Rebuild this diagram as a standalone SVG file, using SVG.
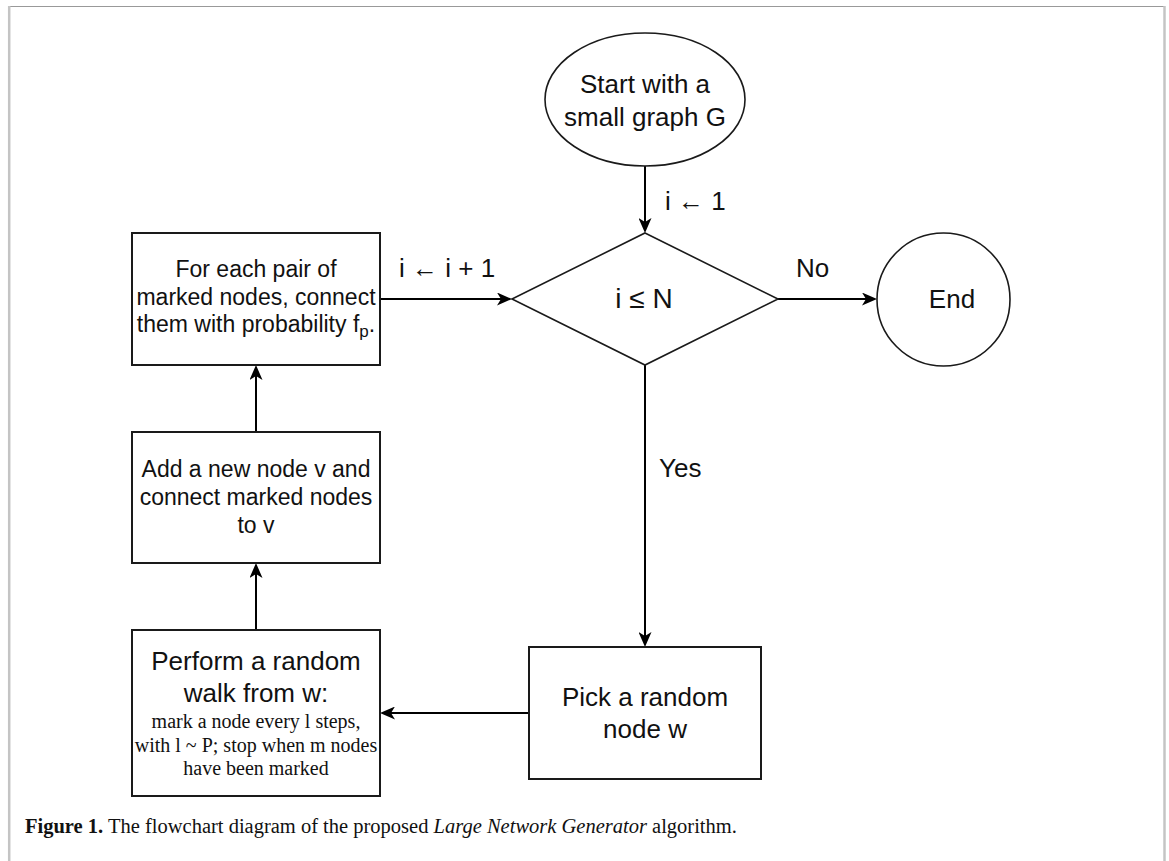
<svg xmlns="http://www.w3.org/2000/svg" width="1169" height="861" viewBox="0 0 1169 861">
<style>
.shape{fill:#fff;stroke:#1a1a1a;stroke-width:1.6}
.box{fill:#fff;stroke:#1a1a1a;stroke-width:2}
.conn{fill:none;stroke:#000;stroke-width:2}
.t{font-family:"Liberation Sans",Arial,sans-serif;fill:#111;text-anchor:middle}
.t26{font-size:26px}
.t23{font-size:23px}
.lab{font-family:"Liberation Sans",Arial,sans-serif;font-size:26px;fill:#111}
.s{font-family:"Liberation Serif","Times New Roman",serif;fill:#111;text-anchor:middle;font-size:20px}
.cap{font-family:"Liberation Serif","Times New Roman",serif;fill:#111;font-size:20.5px}
</style>
<defs>
<marker id="arr" markerUnits="userSpaceOnUse" viewBox="0 0 15 13" refX="4" refY="6.5" markerWidth="15" markerHeight="13" orient="auto">
<path d="M0,0 L15,6.5 L0,13 L4,6.5 Z" fill="#000"/>
</marker>
</defs>
<rect x="0" y="0" width="1169" height="861" fill="#fff"/>
<g id="frame">
<line x1="8" y1="6.5" x2="1165" y2="6.5" stroke="#999" stroke-width="1"/>
<line x1="9.2" y1="6" x2="9.2" y2="861" stroke="#c4c4c4" stroke-width="2.5"/>
<line x1="1164.5" y1="6" x2="1164.5" y2="861" stroke="#c4c4c4" stroke-width="2.5"/>
</g>
<g id="connectors">
<line class="conn" x1="645" y1="166" x2="645" y2="222" marker-end="url(#arr)"/>
<line class="conn" x1="777" y1="299" x2="866" y2="299" marker-end="url(#arr)"/>
<line class="conn" x1="645" y1="365" x2="645" y2="636" marker-end="url(#arr)"/>
<line class="conn" x1="529" y1="713" x2="391" y2="713" marker-end="url(#arr)"/>
<line class="conn" x1="256" y1="630" x2="256" y2="574" marker-end="url(#arr)"/>
<line class="conn" x1="256" y1="432" x2="256" y2="376" marker-end="url(#arr)"/>
<line class="conn" x1="380" y1="299" x2="501" y2="299" marker-end="url(#arr)"/>
<text class="lab" x="665" y="210">i ← 1</text>
<text class="lab" x="796" y="277">No</text>
<text class="lab" x="659" y="477">Yes</text>
<text class="lab" x="399" y="277">i ← i + 1</text>
</g>
<g id="start">
<ellipse class="shape" cx="645" cy="99.5" rx="100" ry="66.5"/>
<text class="t t26" x="645" y="92.5">Start with a</text>
<text class="t t26" x="645" y="126">small graph G</text>
</g>
<g id="decision">
<polygon class="shape" points="645,233 778,299 645,365 512,299"/>
<text class="t" font-size="28" x="644" y="308">i ≤ N</text>
</g>
<g id="end">
<ellipse class="shape" cx="943.5" cy="299.5" rx="66.5" ry="66.5"/>
<text class="t t26" x="952" y="308">End</text>
</g>
<g id="pair">
<rect class="box" x="132" y="233" width="248" height="132"/>
<text class="t t23" x="256" y="277">For each pair of</text>
<text class="t t23" x="256" y="304.5">marked nodes, connect</text>
<text class="t t23" x="256" y="332">them with probability f<tspan font-size="17" dy="5">p</tspan><tspan dy="-5">.</tspan></text>
</g>
<g id="addnode">
<rect class="box" x="132" y="432" width="248" height="131"/>
<text class="t t23" x="256" y="477">Add a new node v and</text>
<text class="t t23" x="256" y="505">connect marked nodes</text>
<text class="t t23" x="256" y="533">to v</text>
</g>
<g id="walk">
<rect class="box" x="132" y="630" width="248" height="166"/>
<text class="t t26" x="256" y="670">Perform a random</text>
<text class="t t26" x="256" y="702">walk from w:</text>
<text class="s" x="256" y="728">mark a node every l steps,</text>
<text class="s" x="256" y="752">with l ~ P; stop when m nodes</text>
<text class="s" x="256" y="775">have been marked</text>
</g>
<g id="pick">
<rect class="box" x="529" y="647" width="232" height="132"/>
<text class="t t26" x="645" y="705.5">Pick a random</text>
<text class="t t26" x="645" y="738">node w</text>
</g>
<g id="caption">
<text class="cap" x="25" y="833"><tspan font-weight="bold">Figure 1.</tspan> The flowchart diagram of the proposed <tspan font-style="italic">Large Network Generator</tspan> algorithm.</text>
</g>
</svg>
